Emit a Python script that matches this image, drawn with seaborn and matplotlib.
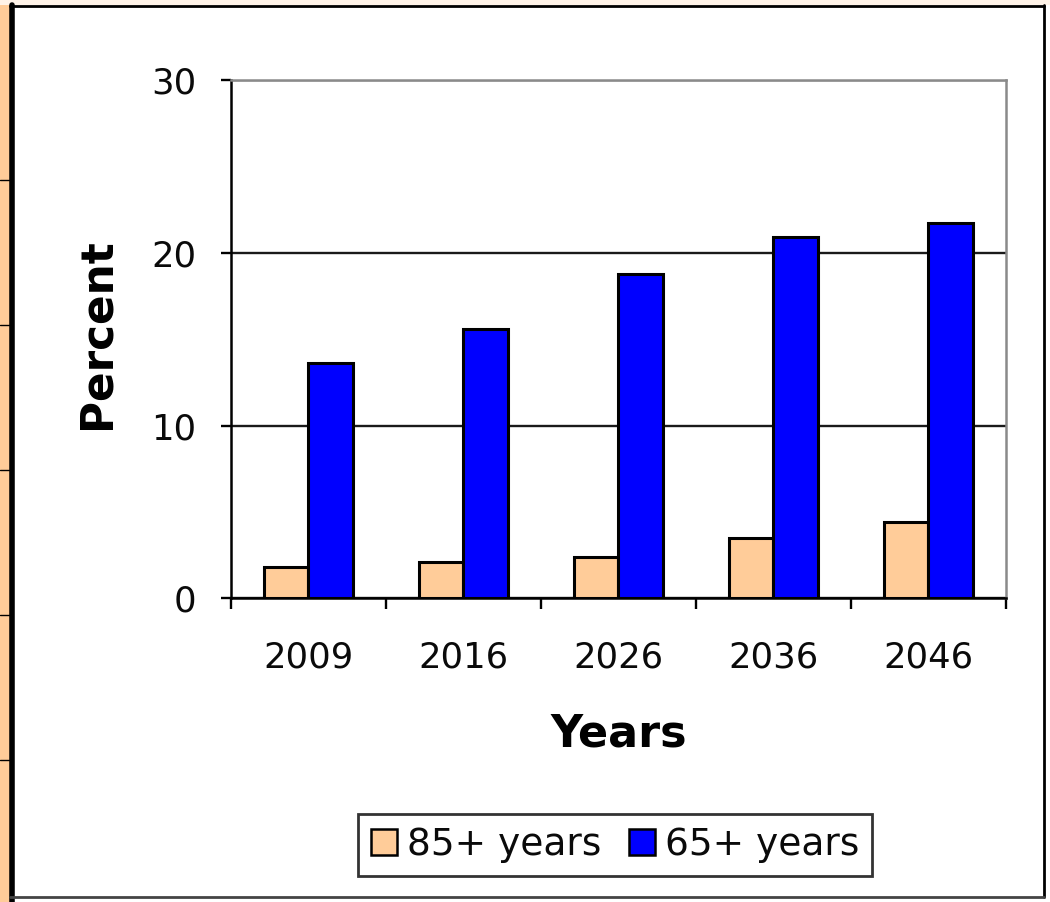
import matplotlib
matplotlib.use("Agg")
import matplotlib.pyplot as plt
from matplotlib.patches import Rectangle
from matplotlib.lines import Line2D
import seaborn as sns
import pandas as pd

# Share of population by age group, projected years
years = ["2009", "2016", "2026", "2036", "2046"]
pct_85_plus = [1.8, 2.1, 2.4, 3.5, 4.4]
pct_65_plus = [13.6, 15.6, 18.8, 20.9, 21.7]
series_names = ["85+ years", "65+ years"]
series_colors = ["#FFCC99", "#0000FF"]
y_ticks = [0, 10, 20, 30]

df = pd.DataFrame({
    "Years": years * 2,
    "Percent": pct_85_plus + pct_65_plus,
    "Group": [series_names[0]] * len(years) + [series_names[1]] * len(years),
})

sns.set_theme(style="white")
plt.rcParams["font.family"] = ["DejaVu Sans"]

fig = plt.figure(figsize=(10.5, 9.02), dpi=100)
ax = fig.add_axes([0.22, 0.3365, 0.738, 0.5748])

sns.barplot(data=df, x="Years", y="Percent", hue="Group", order=years,
            hue_order=series_names, palette=series_colors, width=0.57,
            edgecolor="black", linewidth=2.2, saturation=1, ax=ax, zorder=3)

ax.set_ylim(0, 30)
ax.set_xlim(-0.5, len(years) - 0.5)
ax.set_yticks(y_ticks)
ax.yaxis.grid(True, color="#1a1a1a", linewidth=1.7, zorder=1)
ax.set_axisbelow(True)

for side in ["left", "bottom"]:
    ax.spines[side].set_color("black")
    ax.spines[side].set_linewidth(1.8)
for side in ["top", "right"]:
    ax.spines[side].set_color("#8a8a8a")
    ax.spines[side].set_linewidth(1.8)

ax.tick_params(axis="y", which="major", length=7, width=1.7, color="black",
               pad=18, labelsize=25.5, labelcolor="#0a0a0a", left=True)
ax.tick_params(axis="x", which="major", length=0, pad=30,
               labelsize=25.5, labelcolor="#0a0a0a")
# category boundary ticks along the bottom axis
ax.set_xticks([i - 0.5 for i in range(len(years) + 1)], minor=True)
ax.tick_params(axis="x", which="minor", length=8, width=1.7, color="black",
               bottom=True, direction="out")

ax.set_xlabel("Years", fontsize=32, fontweight="bold", color="black")
ax.set_ylabel("Percent", fontsize=31.5, fontweight="bold", color="black")
ax.xaxis.set_label_coords(0.5, -0.22)
ax.yaxis.set_label_coords(-0.145, 0.51)

sns.move_legend(ax, loc="center", bbox_to_anchor=(0.586, 0.0632),
                bbox_transform=fig.transFigure, ncol=2, title=None,
                fontsize=27, frameon=True, fancybox=False, shadow=False,
                edgecolor="black", handlelength=0.68, handleheight=0.68,
                handletextpad=0.27, columnspacing=0.75, borderpad=0.35,
                borderaxespad=0)
leg = ax.get_legend()
leg.get_frame().set_linewidth(2.0)
for t in leg.get_texts():
    t.set_color("#0a0a0a")
for h in leg.legend_handles:
    h.set_edgecolor("black")
    h.set_linewidth(1.8)

# outer chart frame and the sheet edge on the left
W, H = 1050, 902
fig.patches.append(Rectangle((0, 0), 10 / W, 1, transform=fig.transFigure,
                             facecolor="#FFCC99", edgecolor="none", zorder=0))
for yy in [180, 325, 470, 615, 760]:
    fig.lines.append(Line2D([0, 10 / W], [1 - yy / H] * 2, transform=fig.transFigure,
                            color="black", linewidth=1.0))
fig.patches.append(Rectangle((0, 1 - 5 / H), 1, 5 / H, transform=fig.transFigure,
                             facecolor="#FFF3E8", edgecolor="none", zorder=0))
fig.lines.append(Line2D([12 / W, 12 / W], [0, 1 - 5 / H], transform=fig.transFigure,
                        color="black", linewidth=4.0))
fig.lines.append(Line2D([10 / W, 1044 / W], [1 - 6 / H] * 2, transform=fig.transFigure,
                        color="black", linewidth=2.0))
fig.lines.append(Line2D([1044 / W, 1044 / W], [1 - 897 / H, 1 - 5 / H],
                        transform=fig.transFigure, color="black", linewidth=2.0))
fig.lines.append(Line2D([10 / W, 1044 / W], [1 - 897 / H] * 2, transform=fig.transFigure,
                        color="#444444", linewidth=2.0))

fig.savefig("out.png", dpi=100)
